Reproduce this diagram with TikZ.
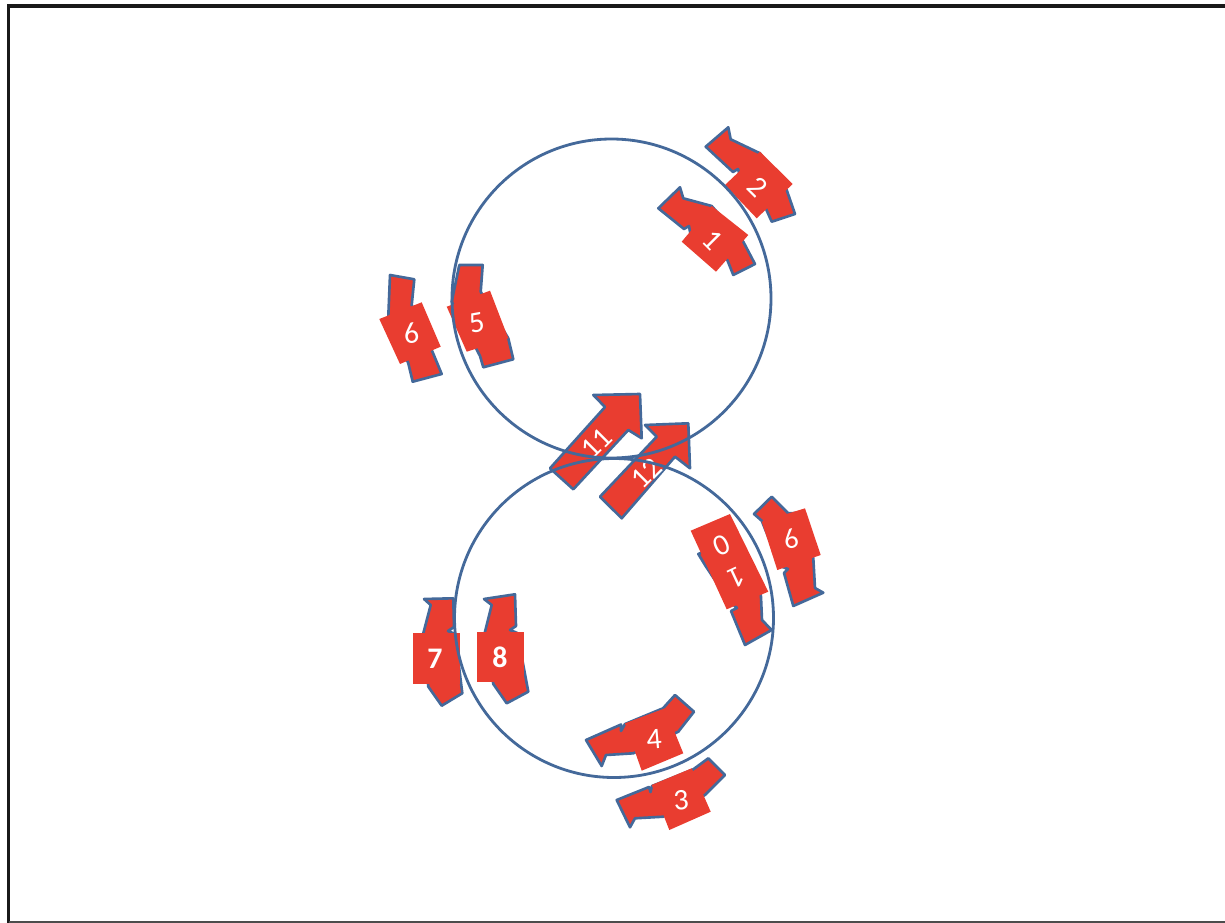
\documentclass[tikz,border=0pt]{standalone}
\usepackage{fontspec}
\setmainfont{Carlito}
\definecolor{TrackBlue}{HTML}{44699A}
\definecolor{CarRed}{HTML}{E93D30}
% coordinates below are read in reference pixels
\tikzset{
  trackline/.style={draw=TrackBlue,line width=1.6pt},
  caroutline/.style={draw=TrackBlue,fill=CarRed,line width=1.5pt,line join=round},
  carbody/.style={fill=CarRed},
  carlabel/.style={text=white,font=\fontsize{17}{20}\selectfont,inner sep=0pt,align=center},
}
\newcommand{\carshape}[2]{%
  \draw[caroutline] #1 -- cycle;
  \fill[carbody] #2 -- cycle;
}
\begin{document}
\begin{tikzpicture}[x=0.02cm,y=-0.02cm]
  \useasboundingbox (0,0) rectangle (1225,923);
  \draw[black!90,line width=2pt] (8.5,923) -- (8.5,6) -- (1225,6);
  \draw[black!70,line width=0.6pt] (8.5,922) -- (1225,922);
  % car 1
  \carshape{(658.3,208.3) -- (680,187.3) -- (683.3,198.3) -- (711.7,206) -- (743.3,241.7) -- (755,264) -- (733.3,275) -- (727.3,260) -- (690,232) -- (689,226) -- (684,229)}
    {(711.7,206) -- (748.3,235) -- (716,271.7) -- (681.7,241.7)}
  \node[carlabel,rotate=-45] (car1) at (712.7,240) {1};
  % car 2
  \carshape{(705.7,146.7) -- (728.3,127.3) -- (730.7,139.3) -- (760,153.3) -- (786.7,190) -- (795,214) -- (771.7,221.7) -- (765,206.7) -- (740,176) -- (738,169) -- (733,172)}
    {(760,151.7) -- (792.7,184) -- (756.7,218.3) -- (725,185)}
  \node[carlabel,rotate=-45] (car2) at (757.3,186.7) {2};
  % car 3
  \carshape{(616.7,800) -- (649,787) -- (650.5,792) -- (652,786) -- (693.3,769.3) -- (708.3,758.3) -- (725,775) -- (705,795) -- (663.3,816.7) -- (635,818.3) -- (630,827.3)}
    {(651.7,785) -- (691.7,768.3) -- (710.7,811.7) -- (669.3,830)}
  \node[carlabel,rotate=5] (car3) at (681,800.7) {3};
  % car 4
  \carshape{(586,740) -- (621,724.5) -- (621,731) -- (625,724) -- (663,708.3) -- (675,695) -- (694,711.7) -- (678.3,731.7) -- (633.3,753.3) -- (606,755) -- (601.7,766)}
    {(625,723.3) -- (665,708.3) -- (683.3,753.3) -- (641.7,770.7)}
  \node[carlabel,rotate=5] (car4) at (654,739.3) {4};
  % car 5
  \carshape{(459.3,265) -- (482.7,265) -- (480.7,291.7) -- (508.3,338.3) -- (513.3,359.3) -- (483.3,367.3) -- (480,356) -- (451.7,301.7)}
    {(490,290.7) -- (508.3,338.3) -- (466.7,351.7) -- (446.7,306.7)}
  \node[carlabel,rotate=10] (car5) at (476.7,323.3) {5};
  % car 6
  \carshape{(390,275) -- (414.3,279.3) -- (411.7,305) -- (433,353) -- (441.7,374) -- (412.7,381.7) -- (408.3,363.3) -- (388.3,316.7)}
    {(421.7,302.3) -- (440.7,346.7) -- (400,364) -- (379.3,319)}
  \node[carlabel,rotate=10] (car6) at (411,333.3) {6};
  % car 7
  \carshape{(424,599) -- (453.3,598.3) -- (454,627) -- (448,631) -- (455,634) -- (462.3,693.3) -- (441.7,705.7) -- (428.3,686.7) -- (423.3,633.3) -- (430.7,605)}
    {(413.3,633.3) -- (460,633.3) -- (460,684) -- (413.3,684)}
  \node[carlabel,font=\fontsize{17}{20}\selectfont\bfseries] (car7) at (435,659) {7};
  % car 8
  \carshape{(484,599) -- (515,594.3) -- (516,626) -- (510,630) -- (517.3,633) -- (528.3,691.7) -- (506.7,703.3) -- (493.3,684) -- (485,631.7) -- (491.7,605)}
    {(477.3,631.7) -- (524,631.7) -- (524,681.7) -- (477.3,681.7)}
  \node[carlabel,font=\fontsize{17}{20}\selectfont\bfseries] (car8) at (500,657.3) {8};
  % car 9
  \carshape{(754,514) -- (771.7,496.7) -- (788.3,513.3) -- (795,513) -- (813.3,558.3) -- (815,588) -- (823.3,592.7) -- (793.3,606) -- (784,573) -- (788,569) -- (780,566) -- (761.7,520.7)}
    {(805,508.3) -- (820.7,555) -- (777.3,570) -- (761.7,521.7)}
  \node[carlabel,rotate=195] (car9) at (791.7,539.3) {9};
  % car 10
  \carshape{(698.3,554) -- (703,552) -- (760,590) -- (761,597) -- (762,620) -- (771.7,630) -- (745,645) -- (731,611) -- (737,608) -- (728,600) -- (705,565)}
    {(690.7,530.7) -- (730,514) -- (768.3,591.7) -- (726.7,609.3)}
  \node[carlabel,rotate=205] (car10) at (729,561) {1\\0};
  % cars 11 and 12
  \draw[caroutline] (640,394) -- (593.3,395) -- (605,407) -- (550,468.3) -- (573.3,489.3) -- (628.3,430) -- (641.7,438.3) -- cycle;
  \node[carlabel,rotate=45] (car11) at (596.7,443.3) {11};
  \draw[caroutline] (688.3,423.3) -- (645,425) -- (656.7,436.7) -- (600,496.7) -- (621.7,518.3) -- (675,456.7) -- (690,468.3) -- cycle;
  \node[carlabel,rotate=45] (car12) at (646.7,473.3) {12};
  % the two loops
  \draw[trackline] (611.5,298.5) circle (159.5);
  \draw[trackline] (614,618) circle (159.5);
\end{tikzpicture}
\end{document}
